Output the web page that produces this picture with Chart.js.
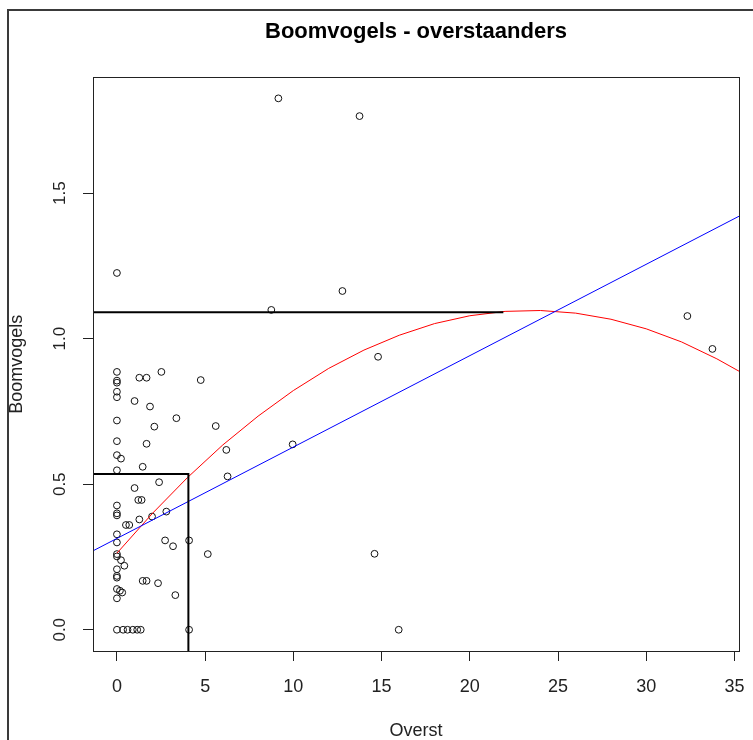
<!DOCTYPE html>
<html>
<head>
<meta charset="utf-8">
<script src="https://cdn.jsdelivr.net/npm/chart.js@4.4.1/dist/chart.umd.min.js"></script>
<style>
  html, body { margin: 0; padding: 0; background: #fff; }
  canvas { display: block; }
</style>
</head>
<body>
<canvas id="myChart" width="753" height="740"></canvas>
<script>
// observations: Overst (x) vs Boomvogels (y)
const overst = [9.15, 13.75, 0, 12.78, 8.75, 32.33, 33.75, 14.8, 9.96, 14.6, 15.97,
  5.6, 6.2, 6.27, 4.75, 5.15, 4.09, 4.09,
  0, 0, 0, 0, 0, 1.27, 1.68, 2.52, 1.0, 1.875, 3.37, 0, 2.12, 0, 1.68, 0, 0.23,
  1.46, 0, 1.0, 2.39, 1.21, 1.40, 0, 0, 0, 1.27, 1.99, 2.8, 0.51, 0.70, 0, 0,
  2.73, 3.18, 0, 0, 0.23, 0.42, 0, 0, 0, 1.46, 1.68, 2.33, 0, 0.17, 0.3, 0, 3.31,
  0, 0.35, 0.6, 0.9, 1.15, 1.35];
const boomvogels = [1.826, 1.765, 1.226, 1.164, 1.099, 1.078, 0.965, 0.938, 0.637, 0.261, 0,
  0.70, 0.618, 0.527, 0.858, 0.26, 0.307, 0,
  0.886, 0.856, 0.849, 0.818, 0.799, 0.866, 0.866, 0.886, 0.786, 0.767, 0.727, 0.719, 0.698, 0.648, 0.639, 0.600, 0.588,
  0.56, 0.548, 0.487, 0.507, 0.446, 0.446, 0.427, 0.40, 0.393, 0.379, 0.389, 0.406, 0.36, 0.36, 0.328, 0.30,
  0.307, 0.287, 0.26, 0.252, 0.239, 0.22, 0.208, 0.185, 0.179, 0.168, 0.168, 0.16, 0.14, 0.134, 0.128, 0.108, 0.119,
  0, 0, 0, 0, 0, 0];

// linear fit (blue)
const lmX = [-1.36, 35.26];
const lmY = [0.271, 1.421];

// quadratic fit (red)
const polyX = [0, 2, 4, 6, 8, 10, 12, 14, 16, 18, 20, 22, 24, 26, 28, 30, 32, 34, 35.3];
const polyY = [0.263, 0.399, 0.523, 0.635, 0.734, 0.822, 0.898, 0.961, 1.012, 1.052, 1.079, 1.094,
  1.097, 1.088, 1.067, 1.034, 0.989, 0.931, 0.887];

// black guide lines
const topLineX = [-1.36, 21.9];
const topLineY = [1.091, 1.091];
const cornerX = [-1.36, 4.05, 4.05];
const cornerY = [0.535, 0.535, -0.08];

const xTicks = [0, 5, 10, 15, 20, 25, 30, 35];
const yTicks = [0, 0.5, 1, 1.5];
const yTickLabels = ['0.0', '0.5', '1.0', '1.5'];

const FONT = "'Liberation Sans', Arial, sans-serif";

function toPts(xs, ys) {
  return xs.map((x, i) => ({ x: x, y: ys[i] }));
}

const rFrame = {
  id: 'rFrame',
  beforeDraw(chart) {
    const ctx = chart.ctx;
    ctx.save();
    ctx.strokeStyle = '#3a3a3a';
    ctx.lineWidth = 2;
    ctx.beginPath();
    ctx.moveTo(8, 740);
    ctx.lineTo(8, 10);
    ctx.lineTo(753, 10);
    ctx.stroke();
    ctx.restore();
  },
  afterDraw(chart) {
    const ctx = chart.ctx;
    const a = chart.chartArea;
    const ys = chart.scales.y;
    ctx.save();
    ctx.strokeStyle = '#222';
    ctx.lineWidth = 1;
    ctx.strokeRect(Math.round(a.left) + 0.5, Math.round(a.top) + 0.5,
      Math.round(a.right - a.left), Math.round(a.bottom - a.top));
    // rotated y tick labels like R
    ctx.fillStyle = '#222';
    ctx.font = '17px ' + FONT;
    ctx.textAlign = 'center';
    ctx.textBaseline = 'middle';
    yTicks.forEach((v, i) => {
      ctx.save();
      ctx.translate(60, ys.getPixelForValue(v));
      ctx.rotate(-Math.PI / 2);
      ctx.fillText(yTickLabels[i], 0, 0);
      ctx.restore();
    });
    ctx.restore();
  }
};

new Chart(document.getElementById('myChart'), {
  type: 'scatter',
  data: {
    datasets: [
      {
        label: 'topLine',
        data: toPts(topLineX, topLineY),
        showLine: true, borderColor: '#000', borderWidth: 2, pointRadius: 0
      },
      {
        label: 'corner',
        data: toPts(cornerX, cornerY),
        showLine: true, borderColor: '#000', borderWidth: 2, pointRadius: 0
      },
      {
        label: 'lm',
        data: toPts(lmX, lmY),
        showLine: true, borderColor: '#0000ff', borderWidth: 1, pointRadius: 0
      },
      {
        label: 'poly',
        data: toPts(polyX, polyY),
        showLine: true, borderColor: '#ff0000', borderWidth: 1, pointRadius: 0
      },
      {
        label: 'obs',
        data: toPts(overst, boomvogels),
        pointRadius: 3.4, pointBorderWidth: 1,
        pointBorderColor: '#111', pointBackgroundColor: 'rgba(0,0,0,0)'
      }
    ]
  },
  options: {
    responsive: false,
    animation: false,
    devicePixelRatio: 1,
    layout: { padding: { left: 0, right: 14, top: 0, bottom: 0 } },
    plugins: {
      legend: { display: false },
      tooltip: { enabled: false },
      title: {
        display: true,
        text: 'Boomvogels - overstaanders',
        fullSize: false,
        color: '#000',
        font: { family: FONT, size: 22, weight: 'bold' },
        padding: { top: 19, bottom: 32 }
      }
    },
    scales: {
      x: {
        type: 'linear',
        min: -1.356,
        max: 35.256,
        afterBuildTicks: s => { s.ticks = xTicks.map(v => ({ value: v })); },
        afterFit: s => { s.height = 89; s.paddingLeft = 0; s.paddingRight = 0; },
        grid: { drawOnChartArea: false, drawTicks: true, tickLength: 10, color: '#222' },
        border: { display: true, color: '#222', width: 1 },
        ticks: { color: '#222', font: { family: FONT, size: 18 }, padding: 15, maxRotation: 0 },
        title: {
          display: true, text: 'Overst', color: '#222',
          font: { family: FONT, size: 18, lineHeight: 1 },
          padding: { top: 0, bottom: 0 }
        }
      },
      y: {
        type: 'linear',
        min: -0.073,
        max: 1.898,
        afterBuildTicks: s => { s.ticks = yTicks.map(v => ({ value: v })); },
        afterFit: s => { s.width = 93; },
        grid: { drawOnChartArea: false, drawTicks: true, tickLength: 10, color: '#222' },
        border: { display: true, color: '#222', width: 1 },
        ticks: { display: false },
        title: {
          display: true, text: 'Boomvogels', color: '#222',
          font: { family: FONT, size: 18 },
          padding: { top: 6, bottom: 0 }
        }
      }
    }
  },
  plugins: [rFrame]
});
</script>
</body>
</html>
